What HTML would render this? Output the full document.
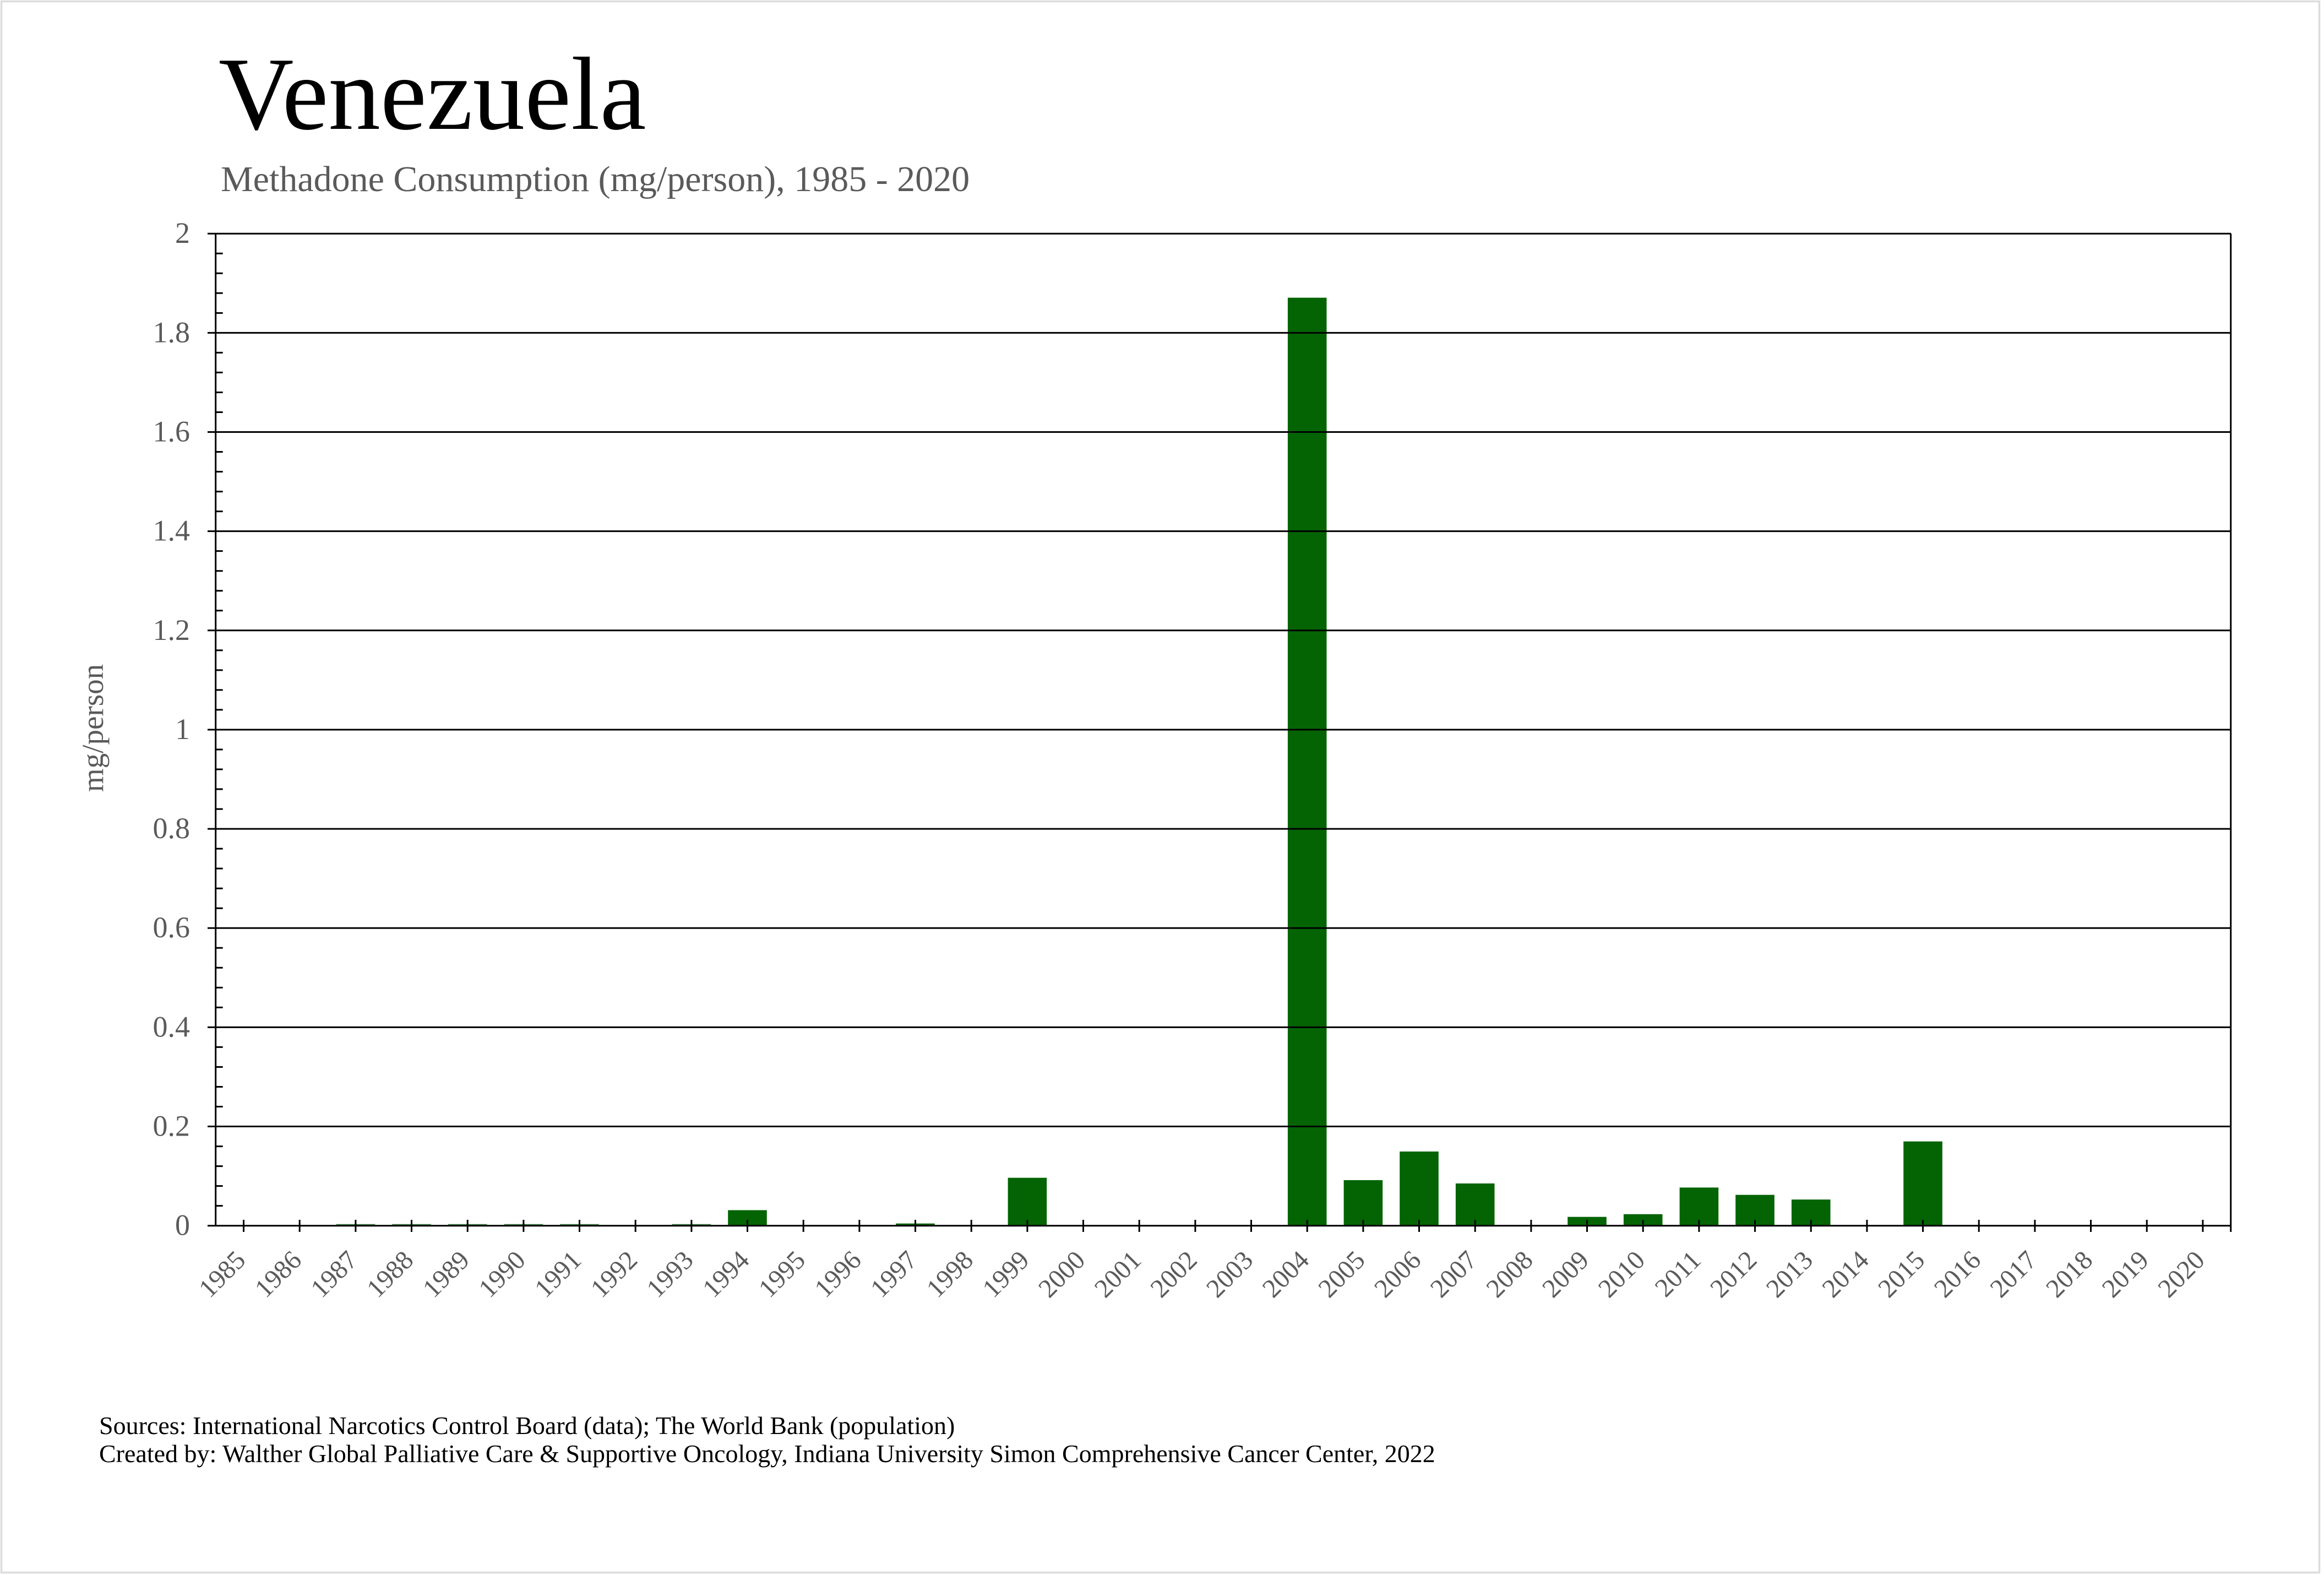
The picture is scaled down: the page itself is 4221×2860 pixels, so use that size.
<!DOCTYPE html>
<html>
<head>
<meta charset="utf-8">
<style>
html,body{margin:0;padding:0;background:#fff;}
svg{display:block;}
text{font-family:"Liberation Serif","Times New Roman",serif;}
</style>
</head>
<body>
<svg xmlns="http://www.w3.org/2000/svg" width="4221" height="2860" viewBox="0 0 4221 2860">
<rect x="0" y="0" width="4221" height="2860" fill="#fff"/>
<rect x="2.5" y="2.5" width="4210" height="2853" fill="none" stroke="#dcdcdc" stroke-width="3.5"/>

<text x="397" y="234" font-size="189" fill="#000">Venezuela</text>
<text x="401" y="347" font-size="66" fill="#5a5a5a">Methadone Consumption (mg/person), 1985 - 2020</text>

<!-- bars -->
<g fill="#046404">
<rect x="610.6" y="2222.7" width="70.6" height="3.5" fill="#3f8a3f"/>
<rect x="712.2" y="2222.7" width="70.6" height="3.5" fill="#3f8a3f"/>
<rect x="813.9" y="2222.7" width="70.6" height="3.5" fill="#3f8a3f"/>
<rect x="915.6" y="2222.7" width="70.6" height="3.5" fill="#3f8a3f"/>
<rect x="1017.2" y="2222.7" width="70.6" height="3.5" fill="#3f8a3f"/>
<rect x="1220.6" y="2222.7" width="70.6" height="3.5" fill="#3f8a3f"/>
<rect x="1322.2" y="2197.5" width="70.6" height="28.7"/>
<rect x="1627.2" y="2221.7" width="70.6" height="4.5"/>
<rect x="1830.6" y="2138.7" width="70.6" height="87.5"/>
<rect x="2338.9" y="540.6" width="70.6" height="1685.6"/>
<rect x="2440.6" y="2143" width="70.6" height="83.2"/>
<rect x="2542.2" y="2091" width="70.6" height="135.2"/>
<rect x="2643.9" y="2149" width="70.6" height="77.2"/>
<rect x="2847.2" y="2209.7" width="70.6" height="16.5"/>
<rect x="2948.9" y="2204.8" width="70.6" height="21.4"/>
<rect x="3050.6" y="2156.4" width="70.6" height="69.8"/>
<rect x="3152.2" y="2169.7" width="70.6" height="56.5"/>
<rect x="3253.9" y="2178.2" width="70.6" height="48"/>
<rect x="3457.2" y="2072.7" width="70.6" height="153.5"/>
</g>

<!-- gridlines -->
<g stroke="#000" stroke-width="3" fill="none">
<path d="M377 424.2H4052 M377 604.35H4052 M377 784.5H4052 M377 964.65H4052 M377 1144.8H4052 M377 1324.95H4052 M377 1505.1H4052 M377 1685.25H4052 M377 1865.4H4052 M377 2045.55H4052"/>
<path d="M377 2225.7H4052"/>
<path d="M391.7 424.2V2225.7"/>
<path d="M4051.7 424.2V2237"/>
<!-- minor ticks -->
<path d="M391.7 2189.67h13 M391.7 2153.64h13 M391.7 2117.61h13 M391.7 2081.58h13 M391.7 2009.52h13 M391.7 1973.49h13 M391.7 1937.46h13 M391.7 1901.43h13 M391.7 1829.37h13 M391.7 1793.34h13 M391.7 1757.31h13 M391.7 1721.28h13 M391.7 1649.22h13 M391.7 1613.19h13 M391.7 1577.16h13 M391.7 1541.13h13 M391.7 1469.07h13 M391.7 1433.04h13 M391.7 1397.01h13 M391.7 1360.98h13 M391.7 1288.92h13 M391.7 1252.89h13 M391.7 1216.86h13 M391.7 1180.83h13 M391.7 1108.77h13 M391.7 1072.74h13 M391.7 1036.71h13 M391.7 1000.68h13 M391.7 928.62h13 M391.7 892.59h13 M391.7 856.56h13 M391.7 820.53h13 M391.7 748.47h13 M391.7 712.44h13 M391.7 676.41h13 M391.7 640.38h13 M391.7 568.32h13 M391.7 532.29h13 M391.7 496.26h13 M391.7 460.23h13"/>
<!-- x ticks -->
<path d="M442.5 2215V2237 M544.2 2215V2237 M645.9 2215V2237 M747.5 2215V2237 M849.2 2215V2237 M950.9 2215V2237 M1052.5 2215V2237 M1154.2 2215V2237 M1255.9 2215V2237 M1357.5 2215V2237 M1459.2 2215V2237 M1560.9 2215V2237 M1662.5 2215V2237 M1764.2 2215V2237 M1865.9 2215V2237 M1967.5 2215V2237 M2069.2 2215V2237 M2170.9 2215V2237 M2272.5 2215V2237 M2374.2 2215V2237 M2475.9 2215V2237 M2577.5 2215V2237 M2679.2 2215V2237 M2780.9 2215V2237 M2882.5 2215V2237 M2984.2 2215V2237 M3085.9 2215V2237 M3187.5 2215V2237 M3289.2 2215V2237 M3390.9 2215V2237 M3492.5 2215V2237 M3594.2 2215V2237 M3695.9 2215V2237 M3797.5 2215V2237 M3899.2 2215V2237 M4000.9 2215V2237"/>
</g>

<!-- y labels -->
<g font-size="54" fill="#5a5a5a" text-anchor="end">
<text x="345" y="441">2</text>
<text x="345" y="621.5">1.8</text>
<text x="345" y="801.5">1.6</text>
<text x="345" y="981.5">1.4</text>
<text x="345" y="1162">1.2</text>
<text x="345" y="1342">1</text>
<text x="345" y="1522">0.8</text>
<text x="345" y="1702">0.6</text>
<text x="345" y="1882.5">0.4</text>
<text x="345" y="2062.5">0.2</text>
<text x="345" y="2242.5">0</text>
</g>

<text transform="translate(187,1322) rotate(-90)" font-size="55" fill="#5a5a5a" text-anchor="middle">mg/person</text>

<!-- x labels -->
<g font-size="48" fill="#5a5a5a" text-anchor="end">
<text transform="translate(448.5,2291) rotate(-45)">1985</text>
<text transform="translate(550.2,2291) rotate(-45)">1986</text>
<text transform="translate(651.9,2291) rotate(-45)">1987</text>
<text transform="translate(753.5,2291) rotate(-45)">1988</text>
<text transform="translate(855.2,2291) rotate(-45)">1989</text>
<text transform="translate(956.9,2291) rotate(-45)">1990</text>
<text transform="translate(1058.5,2291) rotate(-45)">1991</text>
<text transform="translate(1160.2,2291) rotate(-45)">1992</text>
<text transform="translate(1261.9,2291) rotate(-45)">1993</text>
<text transform="translate(1363.5,2291) rotate(-45)">1994</text>
<text transform="translate(1465.2,2291) rotate(-45)">1995</text>
<text transform="translate(1566.9,2291) rotate(-45)">1996</text>
<text transform="translate(1668.5,2291) rotate(-45)">1997</text>
<text transform="translate(1770.2,2291) rotate(-45)">1998</text>
<text transform="translate(1871.9,2291) rotate(-45)">1999</text>
<text transform="translate(1973.5,2291) rotate(-45)">2000</text>
<text transform="translate(2075.2,2291) rotate(-45)">2001</text>
<text transform="translate(2176.9,2291) rotate(-45)">2002</text>
<text transform="translate(2278.5,2291) rotate(-45)">2003</text>
<text transform="translate(2380.2,2291) rotate(-45)">2004</text>
<text transform="translate(2481.9,2291) rotate(-45)">2005</text>
<text transform="translate(2583.5,2291) rotate(-45)">2006</text>
<text transform="translate(2685.2,2291) rotate(-45)">2007</text>
<text transform="translate(2786.9,2291) rotate(-45)">2008</text>
<text transform="translate(2888.5,2291) rotate(-45)">2009</text>
<text transform="translate(2990.2,2291) rotate(-45)">2010</text>
<text transform="translate(3091.9,2291) rotate(-45)">2011</text>
<text transform="translate(3193.5,2291) rotate(-45)">2012</text>
<text transform="translate(3295.2,2291) rotate(-45)">2013</text>
<text transform="translate(3396.9,2291) rotate(-45)">2014</text>
<text transform="translate(3498.5,2291) rotate(-45)">2015</text>
<text transform="translate(3600.2,2291) rotate(-45)">2016</text>
<text transform="translate(3701.9,2291) rotate(-45)">2017</text>
<text transform="translate(3803.5,2291) rotate(-45)">2018</text>
<text transform="translate(3905.2,2291) rotate(-45)">2019</text>
<text transform="translate(4006.9,2291) rotate(-45)">2020</text>
</g>

<g font-size="46" fill="#000">
<text x="180" y="2604">Sources: International Narcotics Control Board (data); The World Bank (population)</text>
<text x="180" y="2655">Created by: Walther Global Palliative Care &amp; Supportive Oncology, Indiana University Simon Comprehensive Cancer Center, 2022</text>
</g>
</svg>
</body>
</html>
